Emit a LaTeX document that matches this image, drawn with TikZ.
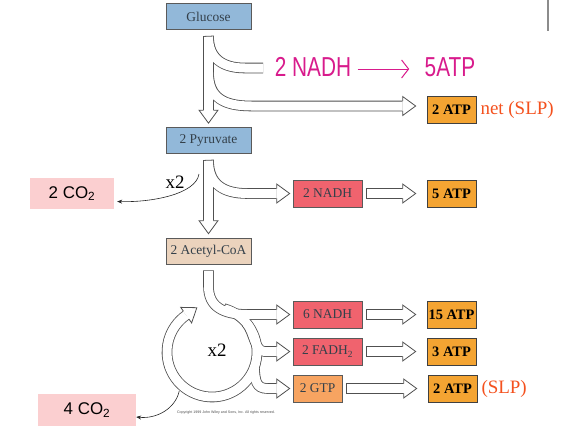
\documentclass[tikz,border=0pt]{standalone}
\usepackage{fontspec}
\setmainfont{Liberation Serif}
\setsansfont{Liberation Sans}
\usetikzlibrary{calc}
\usetikzlibrary{positioning}
\usetikzlibrary{arrows.meta}
\definecolor{sugarblue}{HTML}{92B8D9}
\definecolor{acetyltan}{HTML}{EBD3BD}
\definecolor{nadhred}{HTML}{F0636E}
\definecolor{atporange}{HTML}{F4A432}
\definecolor{gtporange}{HTML}{F7A461}
\definecolor{co2pink}{HTML}{FBCFD0}
\definecolor{inkpink}{HTML}{D81B8C}
\definecolor{slpred}{HTML}{F4511E}
\definecolor{tubegray}{HTML}{505050}
\definecolor{boxline}{HTML}{5A5A5A}
\definecolor{boxtext}{HTML}{34404A}
\tikzset{
    box/.style={
        draw=boxline,
        line width=0.7bp,
        inner sep=0pt,
        minimum height=26bp,
        text=boxtext,
        font=\fontsize{13.5}{15}\selectfont},
    sugar/.style={box, fill=sugarblue, minimum width=85bp},
    acetyl/.style={box, fill=acetyltan, minimum width=85bp},
    carrier/.style={box, fill=nadhred, minimum width=69bp, minimum height=27bp},
    gtpbox/.style={box, fill=gtporange, minimum width=49bp, minimum height=27bp},
    atp/.style={box, fill=atporange, draw=black!75, text=black,
        minimum width=49bp, minimum height=27bp,
        font=\fontsize{14.5}{16}\selectfont\bfseries},
    slp/.style={text=slpred, inner sep=0pt, font=\fontsize{19}{21}\selectfont},
    co2/.style={fill=co2pink, inner sep=0pt, font=\sffamily\fontsize{17}{19}\selectfont},
    times/.style={font=\fontsize{19}{21}\selectfont},
    hand/.style={text=inkpink, draw=inkpink, font=\sffamily\fontsize{22}{24}\selectfont},
    thinarrow/.style={draw=black!85, line width=0.6bp, -{Stealth[length=5bp,width=4bp]}},
    tubeout/.style={draw=tubegray, line width=10.6bp},
    tubein/.style={draw=white, line width=9bp, shorten <=0.8bp},
    hhead/.pic={
        \fill[white] (0,-9.5) -- (13,0) -- (0,9.5) -- cycle;
        \draw[tubegray, line width=0.8bp, line join=miter]
            (0,-4.9) -- (0,-9.5) -- (13,0) -- (0,9.5) -- (0,4.9);
    }
}
\begin{document}
\begin{tikzpicture}[x=1bp,y=-1bp]
    \useasboundingbox (0,0) rectangle (571,426);

    % boxes
    \node[sugar] (glu) at (208.5,16.5) {Glucose};
    \node[sugar] (pyr) at (208.5,140.5) {2 Pyruvate};
    \node[acetyl] (aca) at (208.5,251) {2 Acetyl-CoA};
    \node[carrier] (nadh2) at (327.5,193.5) {2 NADH};
    \node[carrier] (nadh6) at (327.5,314.5) {6 NADH};
    \node[carrier] (fadh) at (327.5,351.5) {2 FADH\textsubscript{2}};
    \node[gtpbox] (gtp) at (317.5,388.5) {2 GTP};
    \node[atp] (atp1) at (451.5,110) {2 ATP};
    \node[atp] (atp5) at (451.5,193.5) {5 ATP};
    \node[atp] (atp15) at (451.5,314.5) {15 ATP};
    \node[atp] (atp3) at (451.5,351.5) {3 ATP};
    \node[atp] (atpg) at (452.5,388.5) {2 ATP};
    \node[slp, right=4bp of atp1] (net) {net (SLP)};
    \node[slp, right=4bp of atpg] (slp) {(SLP)};
    \node[co2, minimum width=84bp, minimum height=31bp] (co2a) at (72,193.5) {2 CO\textsubscript{2}};
    \node[co2, minimum width=98bp, minimum height=32bp] (co2b) at (87,410) {4 CO\textsubscript{2}};
    \node[times] (twicea) at (175,182) {x2};
    \coordinate (cyc) at (212,352);
    \node[times] (twiceb) at (217,350) {x2};

    % handwritten note
    \node[hand, draw=none] (hwnadh) at (313,67) {\scalebox{0.95}[1.25]{2 NADH}};
    \node[hand, draw=none] (hwatp) at (450,67) {\scalebox{0.95}[1.25]{5ATP}};
    \draw[hand, line width=1bp, shorten <=3bp, shorten >=12bp,
        -{Straight Barb[length=7bp,width=18bp]}]
        ([yshift=-2bp]hwnadh.east) -- ([yshift=-2bp]hwatp.west);

    \coordinate (stubend) at (263,68);
    \coordinate (cycend) at ($(cyc)+(235:45)$);

    % hollow arrows: outlines first, then the white insides
    \foreach \pass in {tubeout,tubein}{
        \draw[\pass] ($(glu.south)+(0,6)$) -- ($(pyr.north)+(0,-17)$);
        \draw[\pass] ($(glu.south)+(0,6)$) .. controls +(0,23) and +(-22,0) .. ($(stubend)+(-18,0)$) -- (stubend);
        \draw[\pass] ($(glu.south)+(0,42)$) .. controls +(0,26) and +(-28,0) .. ($(atp1.west)+(-175,-4)$) -- ($(atp1.west)+(-24,-4)$);

        \draw[\pass] ($(pyr.south)+(0,6)$) -- ($(aca.north)+(0,-17)$);
        \draw[\pass] ($(pyr.south)+(0,6)$) .. controls +(0,24) and +(-25,0) .. ($(nadh2.west)+(-45,0)$) -- ($(nadh2.west)+(-16,0)$);

        \draw[\pass] ($(aca.south)+(0,6)$) -- +(0,16) .. controls +(0,20) and +(-25,0) .. ($(nadh6.west)+(-45,0)$) -- ($(nadh6.west)+(-16,0)$);
        \draw[\pass] ($(cyc)+(-75:45)$) arc[start angle=-75, end angle=235, radius=45];
        \draw[\pass] ($(cyc)+(-40:45)$) .. controls +(7.7,9.2) and +(-10,0) .. ($(fadh.west)+(-28,0)$) -- ($(fadh.west)+(-16,0)$);
        \draw[\pass] ($(cyc)+(20:45)$) .. controls +(1,13) and +(-12,0) .. ($(gtp.west)+(-25,0)$) -- ($(gtp.west)+(-16,0)$);

        \foreach \a/\b in {nadh2/atp5, nadh6/atp15, fadh/atp3, gtp/atpg}
            \draw[\pass] ($(\a.east)+(4,0)$) -- ($(\b.west)+(-24,0)$);
    }

    % arrow heads
    \pic[rotate=-90] at ($(pyr.north)+(0,-17)$) {hhead};
    \pic[rotate=-90] at ($(aca.north)+(0,-17)$) {hhead};
    \pic at ($(atp1.west)+(-24,-4)$) {hhead};
    \pic at ($(nadh2.west)+(-16,0)$) {hhead};
    \pic at ($(nadh6.west)+(-16,0)$) {hhead};
    \pic at ($(fadh.west)+(-16,0)$) {hhead};
    \pic at ($(gtp.west)+(-16,0)$) {hhead};
    \pic[rotate=35] at (cycend) {hhead};
    \foreach \b in {atp5, atp15, atp3, atpg}
        \pic at ($(\b.west)+(-24,0)$) {hhead};

    % carbon dioxide
    \coordinate (co2afrom) at (199,174);
    \coordinate (co2bfrom) at ($(cyc)+(130:51)$);
    \draw[thinarrow] (co2afrom) .. controls +(-3,20) and +(35,1) .. ($(co2a.east)+(3,8)$);
    \draw[thinarrow] (co2bfrom) .. controls +(-4,18) and +(20,2) .. ($(co2b.east)+(0,7)$);

    \node[text=black!70, font=\sffamily\fontsize{3.6}{4}\selectfont] (copy) at (226,413)
        {Copyright 1999 John Wiley and Sons, Inc. All rights reserved.};
    \draw[black!45, line width=1.8bp] (548,0) -- (548,31);
\end{tikzpicture}
\end{document}
